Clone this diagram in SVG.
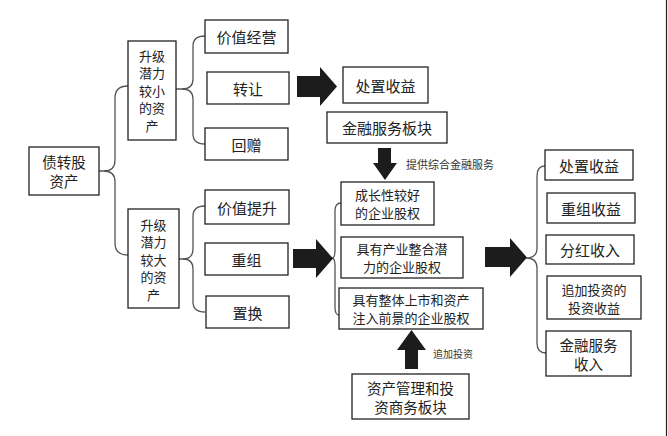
<svg xmlns="http://www.w3.org/2000/svg" width="668" height="436" viewBox="0 0 668 436">
<style>
.box{fill:#fff;stroke:#222;stroke-width:1.3}
.t{font-family:"Noto Sans CJK SC","Liberation Sans",sans-serif;fill:#222;text-anchor:middle;dominant-baseline:central}
.f15{font-size:15px}
.f14{font-size:14.5px}
.f13{font-size:13px}
.lbl{font-family:"Noto Sans CJK SC","Liberation Sans",sans-serif;fill:#333;dominant-baseline:central}
.br{fill:none;stroke:#555;stroke-width:1.3}
.ar{fill:#1c1c1c}
</style>
<rect width="668" height="436" fill="#fff"/>
<line x1="666.5" y1="0" x2="666.5" y2="436" stroke="#222" stroke-width="1.2"/>
<g id="connectors">
<path class="br" d="M99 171 L104 171 Q115 171 115 160 L115 98 Q115 86 128 86"/>
<path class="br" d="M104 171 Q115 171 115 182 L115 243 Q115 255 128 255"/>
<path class="br" d="M176 89 L182 89 Q193 89 193 79 L193 46 Q193 36 205 36"/>
<path class="br" d="M182 89 Q193 89 193 99 L193 134 Q193 144 205 144"/>
<path class="br" d="M179 259 L183 259 Q193 259 193 249 L193 216 Q193 206 205 206"/>
<path class="br" d="M183 259 Q193 259 193 269 L193 302 Q193 312 205 312"/>
<path class="br" d="M341 203 Q335 203 335 211 L335 250 Q335 258 332 258 Q335 258 335 266 L335 307 Q335 315 339 315"/>
<path class="br" d="M545 166 Q537 166 537 176 L537 248 Q537 258 526 258 Q537 258 537 268 L537 343 Q537 353 546 353"/>
<polygon class="ar" points="297,76 320,76 320,67 337,86.5 320,106 320,97 297,97"/>
<polygon class="ar" points="293,249 316,249 316,239 333,258.5 316,278 316,268 293,268"/>
<polygon class="ar" points="485,247 510,247 510,238 527,257.5 510,277 510,267 485,267"/>
<polygon class="ar" points="378,148 391,148 391,163 397,163 385,180 373,163 378,163"/>
<polygon class="ar" points="405,369 418,369 418,350 426,350 411.5,330 397,350 405,350"/>
<text class="lbl" x="406" y="164" font-size="11">提供综合金融服务</text>
<text class="lbl" x="433" y="353" font-size="10">追加投资</text>
</g>
<g id="n_root"><rect class="box" x="29" y="147" width="70" height="48"/><text class="t f14" x="64" y="161.5">债转股</text><text class="t f14" x="64" y="180.5">资产</text></g>
<g id="n_small"><rect class="box" x="128" y="41" width="48" height="99"/>
<text class="t f13" x="152" y="55">升级</text><text class="t f13" x="152" y="72.5">潜力</text><text class="t f13" x="152" y="90">较小</text><text class="t f13" x="152" y="107.5">的资</text><text class="t f13" x="152" y="125">产</text></g>
<g id="n_large"><rect class="box" x="128" y="209" width="51" height="99"/>
<text class="t f13" x="153.5" y="224">升级</text><text class="t f13" x="153.5" y="241.5">潜力</text><text class="t f13" x="153.5" y="259">较大</text><text class="t f13" x="153.5" y="276.5">的资</text><text class="t f13" x="153.5" y="294">产</text></g>
<g id="n_jzjy"><rect class="box" x="205" y="20" width="83" height="33"/><text class="t f15" x="246.5" y="36.5">价值经营</text></g>
<g id="n_zr"><rect class="box" x="207" y="72" width="82" height="32"/><text class="t f15" x="248" y="88">转让</text></g>
<g id="n_hz"><rect class="box" x="205" y="128" width="83" height="32"/><text class="t f15" x="246.5" y="144">回赠</text></g>
<g id="n_jzts"><rect class="box" x="205" y="190" width="84" height="34"/><text class="t f15" x="247" y="207">价值提升</text></g>
<g id="n_cz"><rect class="box" x="205" y="243" width="83" height="32"/><text class="t f15" x="246.5" y="259">重组</text></g>
<g id="n_zh"><rect class="box" x="206" y="296" width="83" height="32"/><text class="t f15" x="247.5" y="312">置换</text></g>
<g id="n_czsy1"><rect class="box" x="343" y="67" width="85" height="36"/><text class="t f15" x="385.5" y="85">处置收益</text></g>
<g id="n_jrfw"><rect class="box" x="327" y="112" width="120" height="31"/><text class="t f15" x="387" y="127.5">金融服务板块</text></g>
<g id="n_czx"><rect class="box" x="341" y="182" width="93" height="43"/><text class="t f13" x="387.5" y="194.5">成长性较好</text><text class="t f13" x="387.5" y="212.5">的企业股权</text></g>
<g id="n_cyzh"><rect class="box" x="341" y="237" width="122" height="41"/><text class="t f13" x="402" y="248.5">具有产业整合潜</text><text class="t f13" x="402" y="266.5">力的企业股权</text></g>
<g id="n_ztss"><rect class="box" x="339" y="288" width="144" height="41"/><text class="t f13" x="411" y="299.5">具有整体上市和资产</text><text class="t f13" x="411" y="317.5">注入前景的企业股权</text></g>
<g id="n_zcgl"><rect class="box" x="352" y="374" width="117" height="45"/><text class="t f14" x="410.5" y="387">资产管理和投</text><text class="t f14" x="410.5" y="406">资商务板块</text></g>
<g id="n_czsy2"><rect class="box" x="545" y="150" width="88" height="30"/><text class="t f15" x="589" y="165">处置收益</text></g>
<g id="n_czsy3"><rect class="box" x="547" y="193" width="88" height="30"/><text class="t f15" x="591" y="208">重组收益</text></g>
<g id="n_fhsr"><rect class="box" x="546" y="235" width="88" height="29"/><text class="t f15" x="590" y="249.5">分红收入</text></g>
<g id="n_zjtz"><rect class="box" x="547" y="276" width="94" height="43"/><text class="t f13" x="594" y="289">追加投资的</text><text class="t f13" x="594" y="307">投资收益</text></g>
<g id="n_jrsr"><rect class="box" x="546" y="331" width="85" height="45"/><text class="t f14" x="588.5" y="344">金融服务</text><text class="t f14" x="588.5" y="363">收入</text></g>
</svg>
